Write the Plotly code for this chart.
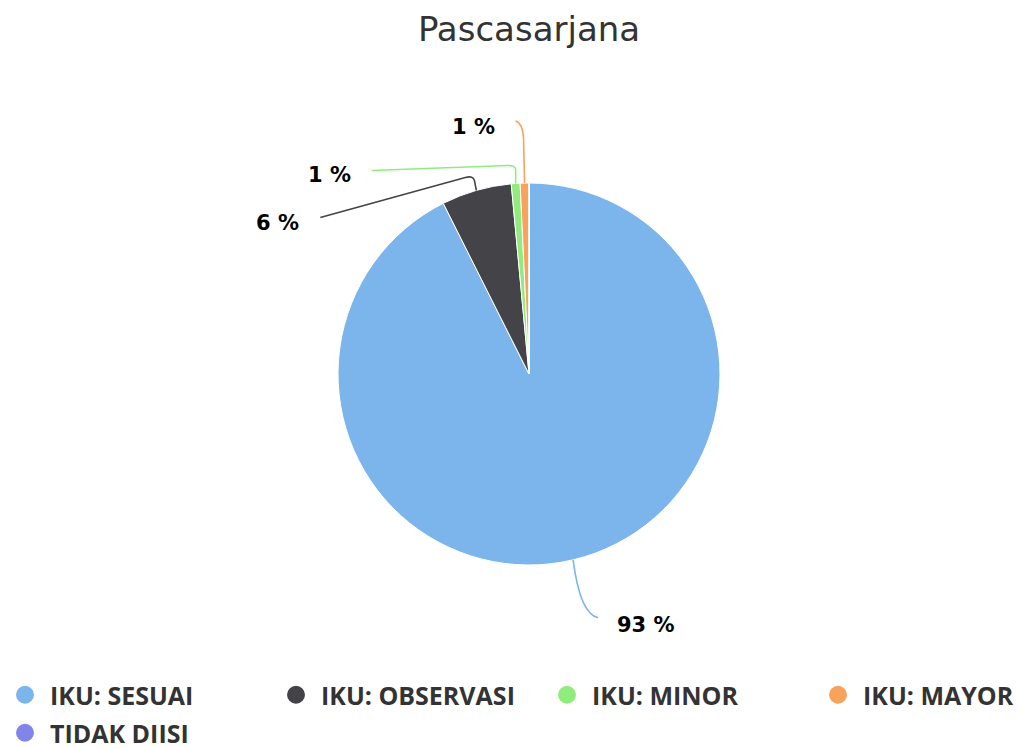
import numpy as np
import plotly.graph_objects as go

# data
labels = ["IKU: SESUAI", "IKU: OBSERVASI", "IKU: MINOR", "IKU: MAYOR", "TIDAK DIISI"]
counts = [125, 8, 1, 1, 0]
colors = ["#7cb5ec", "#434348", "#90ed7d", "#f7a35c", "#8085e9"]

# page geometry (pixels, page coordinates; the plot div sits at the 8px body margin)
W, H = 1028, 749
OFF = 8
CX, CY, R = 529, 374, 191

# legend slot (left x, centre y) of each entry, page pixels
legend_slots = [(0, 695), (271, 695), (542, 695), (813, 695), (0, 733)]


def paper(x, y):
    return (x - OFF) / W, 1 - (y - OFF) / H


# connector shapes, offsets from the slice edge point (pixels)
connectors = {
    0: dict(path=[("Q", (7, 54), (25, 58))], text=(42, 65), anchor="left"),
    1: dict(path=[("L", (-2, -10)), ("Q", (-3, -15), (-11, -13)), ("L", (-156, 27))],
            text=(-175, 33), anchor="right"),
    2: dict(path=[("L", (0, -14)), ("Q", (0, -18), (-8, -18)), ("L", (-144, -13))],
            text=(-163, -8), anchor="right"),
    3: dict(path=[("L", (-1, -45)), ("Q", (-2, -60), (-9, -62))],
            text=(-28, -56), anchor="right"),
}

fig = go.Figure()
x0, y1 = paper(CX - R, CY - R)
x1, y0 = paper(CX + R, CY + R)
fig.add_trace(go.Pie(
    labels=labels, values=counts, sort=False,
    direction="clockwise", rotation=0,
    marker=dict(colors=colors, line=dict(color="white", width=1)),
    textinfo="none", hoverinfo="label+percent", showlegend=False,
    domain=dict(x=[x0, x1], y=[y0, y1]),
))

# legend entries drawn as circles, one small legend per entry
legend_font = dict(family="Open Sans", size=25, weight="bold", color="#333333")
legends = {}
for i, (lab, col) in enumerate(zip(labels, colors)):
    key = "legend" if i == 0 else f"legend{i + 1}"
    fig.add_trace(go.Scatter(
        x=[None], y=[None], mode="markers", name=lab,
        marker=dict(color=col, size=16, symbol="circle", line=dict(color=col, width=2)),
        legend=key,
    ))
    lx, ly = paper(*legend_slots[i])
    legends[key] = dict(orientation="h", x=lx, xanchor="left", y=ly, yanchor="middle",
                        itemwidth=40, font=legend_font, bgcolor="rgba(0,0,0,0)",
                        itemclick=False, itemdoubleclick=False)

# data labels with connectors
total = sum(counts)
cum = 0
shapes, annotations = [], []
for i, v in enumerate(counts):
    if v == 0:
        continue
    mid = (cum + v / 2) / total * 2 * np.pi
    cum += v
    ax, ay = CX + R * np.sin(mid), CY - R * np.cos(mid)
    spec = connectors[i]
    d = "M {:.4f},{:.4f}".format(*paper(ax, ay))
    for seg in spec["path"]:
        if seg[0] == "L":
            d += " L {:.4f},{:.4f}".format(*paper(ax + seg[1][0], ay + seg[1][1]))
        else:
            d += " Q {:.4f},{:.4f} {:.4f},{:.4f}".format(
                *paper(ax + seg[1][0], ay + seg[1][1]),
                *paper(ax + seg[2][0], ay + seg[2][1]))
    shapes.append(dict(type="path", path=d, xref="paper", yref="paper",
                       line=dict(color=colors[i], width=1.6)))
    tx, ty = paper(ax + spec["text"][0], ay + spec["text"][1])
    annotations.append(dict(
        x=tx, y=ty, xref="paper", yref="paper", showarrow=False,
        text=f"{round(v / total * 100)} %", xanchor=spec["anchor"], yanchor="middle",
        font=dict(family="DejaVu Sans", size=21, weight="bold", color="#000000"),
    ))

tx, ty = paper(CX, 29)
fig.update_layout(
    width=W, height=H,
    margin=dict(l=0, r=0, t=0, b=0, autoexpand=False),
    paper_bgcolor="white", plot_bgcolor="white",
    title=dict(text="Pascasarjana", x=tx, xanchor="center",
               y=ty, yanchor="middle",
               font=dict(family="DejaVu Sans", size=34, color="#333333")),
    xaxis=dict(visible=False), yaxis=dict(visible=False),
    shapes=shapes, annotations=annotations,
    **legends,
)

fig.write_html("out.html")
